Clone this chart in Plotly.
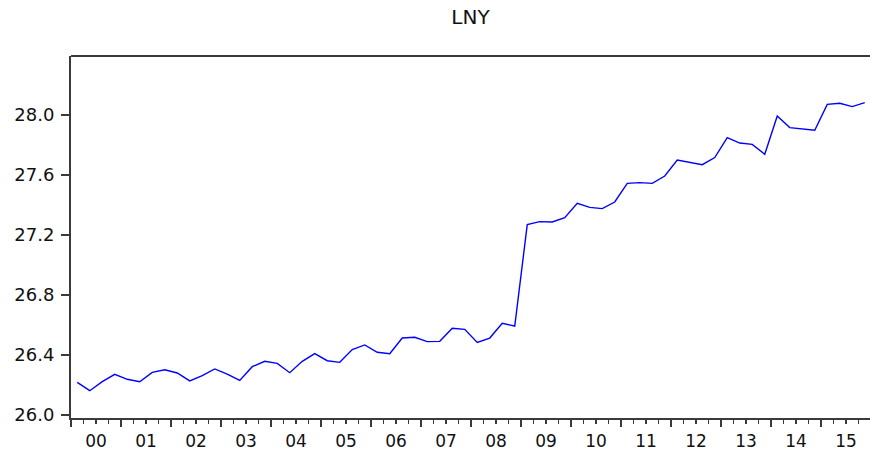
import plotly.graph_objects as go

# Quarterly series LNY, 2000Q1 - 2015Q4
years = ["00", "01", "02", "03", "04", "05", "06", "07",
         "08", "09", "10", "11", "12", "13", "14", "15"]
lny = [26.218, 26.162, 26.222, 26.271, 26.238, 26.222, 26.284, 26.302,
       26.280, 26.227, 26.262, 26.307, 26.273, 26.231, 26.322, 26.358,
       26.344, 26.282, 26.358, 26.409, 26.362, 26.351, 26.436, 26.467,
       26.418, 26.409, 26.513, 26.518, 26.489, 26.491, 26.578, 26.571,
       26.484, 26.513, 26.611, 26.593, 27.269, 27.289, 27.287, 27.316,
       27.411, 27.384, 27.376, 27.420, 27.544, 27.549, 27.544, 27.593,
       27.700, 27.687, 27.669, 27.716, 27.849, 27.813, 27.804, 27.738,
       27.993, 27.916, 27.907, 27.898, 28.071, 28.078, 28.056, 28.082]
y_ticks = [26.0, 26.4, 26.8, 27.2, 27.6, 28.0]

n = len(lny)
quarters = list(range(n))
# major ticks at year starts, minor ticks at quarter starts
year_bounds = [4 * k - 0.5 for k in range(len(years))]
quarter_bounds = [q - 0.5 for q in range(n)]

W, H = 870, 452
L, R, T, B = 71, 0, 56, 34
px_per_q = 12.5
x_range = [-0.5, -0.5 + (W - L - R) / px_per_q]

FONT = "DejaVu Sans"
AX = "#3a3a3a"

fig = go.Figure()
fig.add_trace(go.Scatter(x=quarters, y=lny, mode="lines",
                         line=dict(color="#0000FF", width=1.4),
                         hoverinfo="skip", showlegend=False))

# top edge of the frame
fig.add_shape(type="line", xref="paper", yref="paper",
              x0=0, x1=1, y0=1, y1=1,
              line=dict(color=AX, width=2), layer="above")

fig.update_layout(
    width=W, height=H,
    margin=dict(l=L, r=R, t=T, b=B, pad=0),
    paper_bgcolor="white", plot_bgcolor="white",
    font=dict(family=FONT, size=18, color="#111111"),
    title=dict(text="LNY", x=0.5, xref="paper", xanchor="center",
               y=1 - 17 / H, yref="container", yanchor="middle",
               font=dict(family=FONT, size=20, color="#111111")),
    xaxis=dict(range=x_range, showgrid=False, zeroline=False,
               automargin=False, fixedrange=True,
               showline=True, linecolor=AX, linewidth=2, mirror=False,
               tickmode="array", tickvals=year_bounds, ticktext=years,
               ticklabelshift=int(2 * px_per_q), ticklabelstandoff=0,
               tickfont=dict(size=17),
               ticks="outside", ticklen=7, tickwidth=1.3, tickcolor=AX,
               minor=dict(tickmode="array", tickvals=quarter_bounds,
                          ticks="outside", ticklen=4, tickwidth=1.3,
                          tickcolor=AX, showgrid=False)),
    yaxis=dict(range=[26.0 - 3 / 150, 26.0 + 359 / 150],
               showgrid=False, zeroline=False, automargin=False,
               fixedrange=True,
               showline=True, linecolor=AX, linewidth=2, mirror=False,
               tickmode="array", tickvals=y_ticks,
               ticktext=[f"{v:.1f}" for v in y_ticks],
               ticks="outside", ticklen=8, tickwidth=1.3, tickcolor=AX,
               ticklabelstandoff=3),
)

fig.write_html("out.html", config={"displayModeBar": False,
                                   "staticPlot": True})
